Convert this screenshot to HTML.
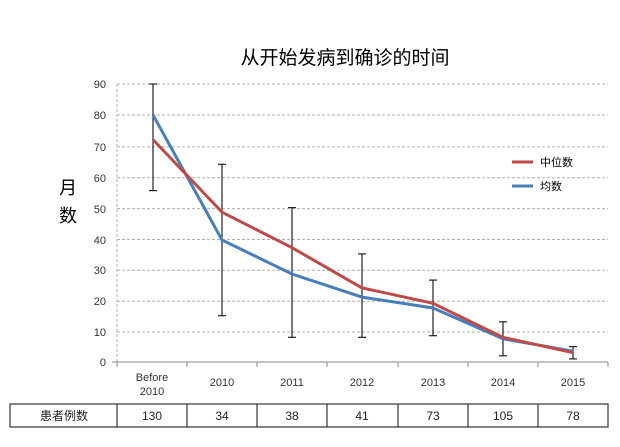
<!DOCTYPE html>
<html><head><meta charset="utf-8"><style>
body{margin:0;background:#fff;width:620px;height:442px;overflow:hidden}
text{font-family:"Liberation Sans","Noto Sans CJK SC",sans-serif}
</style></head><body>
<svg width="620" height="442" xmlns="http://www.w3.org/2000/svg">
<text x="345" y="64" font-size="19" text-anchor="middle" fill="#000">从开始发病到确诊的时间</text>
<g stroke="#b0b0b0" stroke-width="1" stroke-dasharray="3,2">
<line x1="117" x2="608" y1="84" y2="84"/><line x1="117" x2="608" y1="115" y2="115"/>
<line x1="117" x2="608" y1="146.9" y2="146.9"/><line x1="117" x2="608" y1="177.8" y2="177.8"/>
<line x1="117" x2="608" y1="208.6" y2="208.6"/><line x1="117" x2="608" y1="239.5" y2="239.5"/>
<line x1="117" x2="608" y1="270.3" y2="270.3"/><line x1="117" x2="608" y1="301.2" y2="301.2"/>
<line x1="117" x2="608" y1="332" y2="332"/>
<line x1="117" x2="117" y1="84" y2="362"/>
</g>
<g stroke="#888" stroke-width="1">
<line x1="112" x2="608" y1="362" y2="362"/>
<line x1="117" x2="117" y1="362" y2="367"/><line x1="187" x2="187" y1="362" y2="367"/>
<line x1="257" x2="257" y1="362" y2="367"/><line x1="327" x2="327" y1="362" y2="367"/>
<line x1="398" x2="398" y1="362" y2="367"/><line x1="468" x2="468" y1="362" y2="367"/>
<line x1="538" x2="538" y1="362" y2="367"/><line x1="608" x2="608" y1="362" y2="367"/>
</g>
<g font-size="11" fill="#333" text-anchor="end">
<text x="106" y="88">90</text><text x="106" y="119">80</text><text x="106" y="151">70</text>
<text x="106" y="182">60</text><text x="106" y="213">50</text><text x="106" y="244">40</text>
<text x="106" y="274">30</text><text x="106" y="305">20</text><text x="106" y="336">10</text>
<text x="106" y="366">0</text>
</g>
<text x="68" y="194" font-size="18" text-anchor="middle">月</text>
<text x="68" y="222" font-size="18" text-anchor="middle">数</text>
<g font-size="11" fill="#333" text-anchor="middle">
<text x="152" y="381">Before</text><text x="152" y="395">2010</text>
<text x="222" y="386">2010</text><text x="292" y="386">2011</text><text x="362" y="386">2012</text>
<text x="433" y="386">2013</text><text x="503" y="386">2014</text><text x="573" y="386">2015</text>
</g>
<g stroke="#222" stroke-width="1.2">
<line x1="153" x2="153" y1="84" y2="190.6"/><line x1="149" x2="157" y1="84" y2="84"/><line x1="149" x2="157" y1="190.6" y2="190.6"/>
<line x1="222" x2="222" y1="164.3" y2="315.7"/><line x1="218" x2="226" y1="164.3" y2="164.3"/><line x1="218" x2="226" y1="315.7" y2="315.7"/>
<line x1="292" x2="292" y1="207.6" y2="337.3"/><line x1="288" x2="296" y1="207.6" y2="207.6"/><line x1="288" x2="296" y1="337.3" y2="337.3"/>
<line x1="362" x2="362" y1="253.9" y2="337.3"/><line x1="358" x2="366" y1="253.9" y2="253.9"/><line x1="358" x2="366" y1="337.3" y2="337.3"/>
<line x1="433" x2="433" y1="280.1" y2="335.7"/><line x1="429" x2="437" y1="280.1" y2="280.1"/><line x1="429" x2="437" y1="335.7" y2="335.7"/>
<line x1="503" x2="503" y1="321.8" y2="355.8"/><line x1="499" x2="507" y1="321.8" y2="321.8"/><line x1="499" x2="507" y1="355.8" y2="355.8"/>
<line x1="573" x2="573" y1="346.6" y2="358.9"/><line x1="569" x2="577" y1="346.6" y2="346.6"/><line x1="569" x2="577" y1="358.9" y2="358.9"/>
</g>
<polyline fill="none" stroke="#4a7ebb" stroke-width="3" points="153,114.9 222,240 292,274 362,297.1 433,308 503,338.8 573,351.2"/>
<polyline fill="none" stroke="#be4b48" stroke-width="3" points="153,139.6 222,212.2 292,247.7 362,287.9 433,303.3 503,337.3 573,352.7"/>
<line x1="512" x2="533" y1="162" y2="162" stroke="#be4b48" stroke-width="3"/>
<text x="540" y="166" font-size="11">中位数</text>
<line x1="512" x2="533" y1="186" y2="186" stroke="#4a7ebb" stroke-width="3"/>
<text x="540" y="190" font-size="11">均数</text>
<g stroke="#333" stroke-width="1.2" fill="none">
<rect x="10" y="404" width="598" height="23"/>
<line x1="117" x2="117" y1="404" y2="427"/><line x1="187" x2="187" y1="404" y2="427"/>
<line x1="257" x2="257" y1="404" y2="427"/><line x1="327" x2="327" y1="404" y2="427"/>
<line x1="398" x2="398" y1="404" y2="427"/><line x1="468" x2="468" y1="404" y2="427"/>
<line x1="538" x2="538" y1="404" y2="427"/>
</g>
<g font-size="12" text-anchor="middle" fill="#222">
<text x="64" y="420">患者例数</text>
<text x="152" y="420">130</text><text x="222" y="420">34</text><text x="292" y="420">38</text>
<text x="362" y="420">41</text><text x="433" y="420">73</text><text x="503" y="420">105</text><text x="573" y="420">78</text>
</g>
</svg>
</body></html>
